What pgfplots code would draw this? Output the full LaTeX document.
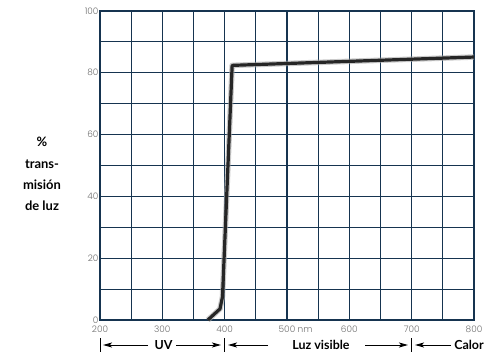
\documentclass[border=0pt]{standalone}
\usepackage{pgfplots}
\pgfplotsset{compat=1.18}
\usepackage{pgfplotstable}
\usepackage{fontspec}
\setmainfont{Lato}
\newfontfamily\tickfont{Poppins Light}
\usetikzlibrary{arrows.meta}
\definecolor{gridblue}{RGB}{22,52,80}
\definecolor{tickgray}{RGB}{110,110,110}
\pgfplotstableread{
x y
373 0
392.5 3.6
396.5 7.5
412 82.4
800 85.1
}\trans
\begin{document}
\begin{tikzpicture}
\useasboundingbox (-100bp,-42bp) rectangle (398bp,320bp);
\begin{axis}[
  at={(0,0)}, anchor=south west,
  width=374bp, height=309bp, scale only axis,
  xmin=200, xmax=800, ymin=0, ymax=100,
  xtick={200,300,...,800},
  minor xtick={250,350,...,750},
  xticklabels={200,300,400,500\rlap{ nm},600,700,800},
  ytick={0,20,...,100},
  minor ytick={10,30,...,90},
  grid=both,
  major grid style={gridblue, line width=1.1bp},
  minor grid style={gridblue, line width=1.1bp},
  axis line style={gridblue, line width=1.2bp},
  major tick length=0pt, minor tick length=0pt,
  tick label style={font=\tickfont\fontsize{9}{10}\selectfont, text=tickgray},
  /pgf/number format/assume math mode=true,
  xticklabel style={yshift=-2.5bp},
  yticklabel style={xshift=2bp},
  clip=false,
]
\addplot[black!35, line width=5.5bp, opacity=0.6, line join=round] table[x=x,y=y]{\trans};
\addplot[black!85, line width=3.2bp, line join=round] table[x=x,y=y]{\trans};
\end{axis}
\node[align=center, font=\bfseries\fontsize{13}{21.3}\selectfont] at (-58bp,146bp) {\%\\trans-\\misión\\de luz};
\begin{scope}[line width=1bp, black, font=\bfseries\fontsize{12.5}{14}\selectfont]
\def\ya{-25bp}
\foreach \xx in {0bp,124.7bp,311.7bp} \draw (\xx,-18bp) -- (\xx,-32bp);
\draw[-{Stealth[length=9bp,width=5bp,inset=2bp]}] (48bp,\ya) -- (3bp,\ya);
\node at (63.5bp,\ya) {UV};
\draw[-{Stealth[length=9bp,width=5bp,inset=2bp]}] (76bp,\ya) -- (121bp,\ya);
\draw[-{Stealth[length=9bp,width=5bp,inset=2bp]}] (168bp,\ya) -- (128bp,\ya);
\node at (221bp,\ya) {Luz visible};
\draw[-{Stealth[length=9bp,width=5bp,inset=2bp]}] (265bp,\ya) -- (308bp,\ya);
\draw[-{Stealth[length=9bp,width=5bp,inset=2bp]}] (351bp,\ya) -- (315bp,\ya);
\node at (369bp,\ya) {Calor};
\end{scope}
\end{tikzpicture}
\end{document}
